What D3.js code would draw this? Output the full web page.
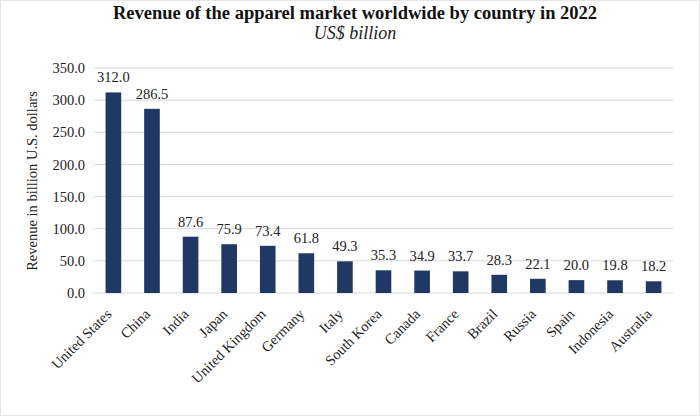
<!DOCTYPE html>
<html><head><meta charset="utf-8">
<script src="https://cdn.jsdelivr.net/npm/d3@7"></script>
<style>body{margin:0;background:#fff;}svg{display:block;}</style>
</head><body>
<svg id="chart" width="700" height="416"></svg>
<script>
const countries = ["United States","China","India","Japan","United Kingdom","Germany","Italy","South Korea","Canada","France","Brazil","Russia","Spain","Indonesia","Australia"];
const revenue = [312.0,286.5,87.6,75.9,73.4,61.8,49.3,35.3,34.9,33.7,28.3,22.1,20.0,19.8,18.2];
const yTicks = [0,50,100,150,200,250,300,350];
const title = "Revenue of the apparel market worldwide by country in 2022";
const subtitle = "US$ billion";
const yLabel = "Revenue in billion U.S. dollars";

const svg = d3.select("#chart");
const font = "'Liberation Serif','Times New Roman',serif";
const W = 700, H = 416;
svg.append("rect").attr("x",0.5).attr("y",0.5).attr("width",W-1).attr("height",H-1)
  .attr("fill","#fff").attr("stroke","#e6e6e6");

const x = d3.scaleBand().domain(countries).range([94,673]).paddingInner(0.595).paddingOuter(0.3);
const y = d3.scaleLinear().domain([0,350]).range([293,68]);

const g = svg.append("g");
g.selectAll("line.grid").data(yTicks).join("line").attr("class","grid")
  .attr("x1",94).attr("x2",673).attr("y1",d=>y(d)).attr("y2",d=>y(d))
  .attr("stroke","#d9d9d9").attr("stroke-width",1);

const yAxis = d3.axisLeft(y).tickValues(yTicks).tickFormat(d3.format(".1f")).tickSize(0).tickPadding(9);
const ya = g.append("g").attr("transform","translate(94,0)").call(yAxis);
ya.select(".domain").remove();
ya.selectAll("text").attr("font-family",font).attr("font-size",14.5).attr("fill","#222");

g.selectAll("rect.bar").data(revenue).join("rect").attr("class","bar")
  .attr("x",(d,i)=>x(countries[i])).attr("width",x.bandwidth())
  .attr("y",d=>y(d)).attr("height",d=>y(0)-y(d)).attr("fill","#203864");

g.selectAll("text.val").data(revenue).join("text").attr("class","val")
  .attr("x",(d,i)=>x(countries[i])+x.bandwidth()/2).attr("y",d=>y(d)-10)
  .attr("text-anchor","middle").attr("font-family",font).attr("font-size",14.5).attr("fill","#222")
  .text(d=>d.toFixed(1));

const xAxis = d3.axisBottom(x).tickSize(0).tickPadding(0);
const xa = g.append("g").attr("transform","translate(0,293)").call(xAxis);
xa.select(".domain").remove();
xa.selectAll("text").attr("font-family",font).attr("font-size",14.5).attr("fill","#222")
  .attr("text-anchor","end").attr("dy",0).attr("y",0)
  .attr("transform","translate(-1,22) rotate(-45)");

svg.append("text").attr("x",355).attr("y",19).attr("text-anchor","middle")
  .attr("font-family",font).attr("font-weight","bold").attr("font-size",18.5).attr("fill","#111").text(title);
svg.append("text").attr("x",355).attr("y",39).attr("text-anchor","middle")
  .attr("font-family",font).attr("font-style","italic").attr("font-size",18).attr("fill","#222").text(subtitle);
svg.append("text").attr("transform","translate(37,181) rotate(-90)").attr("text-anchor","middle")
  .attr("font-family",font).attr("font-size",14.5).attr("fill","#222").text(yLabel);
</script>
</body></html>
